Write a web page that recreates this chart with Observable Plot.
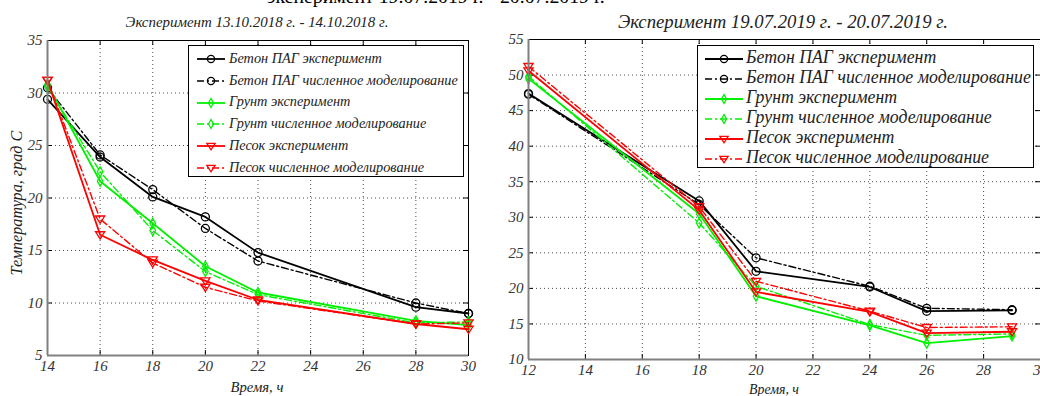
<!DOCTYPE html>
<html><head><meta charset="utf-8">
<script src="https://cdn.jsdelivr.net/npm/d3@7"></script>
<script src="https://cdn.jsdelivr.net/npm/@observablehq/plot@0.6"></script>
<style>
html,body{margin:0;padding:0;background:#fff;overflow:hidden;width:1040px;height:396px;}
#root{position:relative;width:1040px;height:396px;overflow:hidden;font-family:"Liberation Serif","DejaVu Serif",serif;}
.abs{position:absolute;white-space:nowrap;line-height:1;}
.legend{position:absolute;background:#fff;border:1px solid #000;box-sizing:border-box;}
.row{position:absolute;white-space:nowrap;font-style:italic;color:#222;line-height:1;}
.panel{position:absolute;top:0;}
</style></head><body><div id="root"></div>
<script>
// ---------- data ----------
const seriesNames = ["Бетон ПАГ эксперимент","Бетон ПАГ численное моделирование","Грунт эксперимент","Грунт численное моделирование","Песок эксперимент","Песок численное моделирование"];

const hoursA = [14,16,18,20,22,28,30];
const betonExpA = [29.4,23.9,20.1,18.2,14.8,9.6,9.0];
const betonSimA = [30.5,24.1,20.8,17.1,14.0,10.0,9.0];
const gruntExpA = [30.8,21.6,17.6,13.5,11.0,8.3,7.9];
const gruntSimA = [30.6,22.5,16.9,13.0,10.8,8.1,8.2];
const pesokExpA = [31.2,16.5,14.1,12.1,10.3,8.0,7.5];
const pesokSimA = [31.2,18.0,13.8,11.5,10.2,8.0,8.1];
const xTicksA = [14,16,18,20,22,24,26,28,30];
const yTicksA = [5,10,15,20,25,30,35];

const hoursB = [12,18,20,24,26,29];
const betonExpB = [47.4,32.3,22.4,20.2,16.8,16.9];
const betonSimB = [47.3,31.8,24.3,20.3,17.2,17.0];
const gruntExpB = [49.5,30.5,18.9,14.8,12.3,13.3];
const gruntSimB = [49.8,29.2,20.3,14.9,13.4,13.6];
const pesokExpB = [50.6,31.0,19.5,16.7,13.7,13.9];
const pesokSimB = [51.2,31.5,21.0,16.8,14.5,14.6];
const xTicksB = [12,14,16,18,20,22,24,26,28,30];
const yTicksB = [10,15,20,25,30,35,40,45,50,55];

const titleTop = "эксперимент 19.07.2019 г. - 20.07.2019 г.";
const titleA = "Эксперимент 13.10.2018 г. - 14.10.2018 г.";
const titleB = "Эксперимент 19.07.2019 г. - 20.07.2019 г.";
const yLabel = "Температура, град С";
const xLabel = "Время, ч";

// ---------- styles ----------
const triDown = {draw(ctx, size){ const r = Math.sqrt(size/Math.PI);
  ctx.moveTo(-1.15*r,-0.75*r); ctx.lineTo(1.15*r,-0.75*r); ctx.lineTo(0,1.05*r); ctx.closePath(); }};
const diamondTall = {draw(ctx, size){ const r = Math.sqrt(size/Math.PI);
  ctx.moveTo(0,-1.25*r); ctx.lineTo(0.7*r,0); ctx.lineTo(0,1.25*r); ctx.lineTo(-0.7*r,0); ctx.closePath(); }};
const GREEN = "#00f000", RED = "#ff0000", BLACK = "#000000";
function styleOf(i){
  const color = [BLACK,BLACK,GREEN,GREEN,RED,RED][i];
  const symbol = [ "circle","circle",diamondTall,diamondTall,triDown,triDown][i];
  const dashed = i % 2 === 1;
  return {color, symbol, dashed};
}
const DASH = "7,3,2,3";

const root = document.getElementById("root");

function makePanel(cfg){
  const {hours, values, xDomain, xTicks, yDomain, yTicks, width, height, m} = cfg;
  const pw = width - m.l - m.r, ph = height - m.t - m.b;
  const inner = (arr, d) => arr.filter(t => t > d[0] && t < d[1]);
  const marks = [
    Plot.ruleX(inner(xTicks, xDomain), {x: d=>d, stroke:"#000", strokeOpacity:0.7, strokeDasharray:"1,3"}),
    Plot.ruleY(inner(yTicks, yDomain), {y: d=>d, stroke:"#000", strokeOpacity:0.7, strokeDasharray:"1,3"}),
    Plot.tickX(xTicks, {x: d=>d, insetBottom: ph-5, stroke:"#000"}),
    Plot.tickX(xTicks, {x: d=>d, insetTop: ph-5, stroke:"#000"}),
    Plot.tickY(yTicks, {y: d=>d, insetRight: pw-5, stroke:"#000"}),
    Plot.tickY(yTicks, {y: d=>d, insetLeft: pw-5, stroke:"#000"}),
    Plot.frame({stroke:"#000"})
  ];
  values.forEach((vals, i) => {
    const data = hours.map((h, j) => ({x: h, y: vals[j]}));
    const st = styleOf(i);
    marks.push(Plot.line(data, {x:"x", y:"y", stroke: st.color, strokeWidth: st.dashed ? 1.4 : 1.8, strokeDasharray: st.dashed ? DASH : null}));
    marks.push(Plot.dot(data, {x:"x", y:"y", symbol: st.symbol, r: 4, stroke: st.color, fill:"none", strokeWidth: 1.3}));
  });
  marks.push(Plot.ruleX([xDomain[0]], {x: d=>d, stroke:"#808080", strokeWidth:2}));
  marks.push(Plot.ruleY([yDomain[0]], {y: d=>d, stroke:"#808080", strokeWidth:2}));
  return Plot.plot({
    width, height, marginLeft: m.l, marginRight: m.r, marginTop: m.t, marginBottom: m.b,
    x: {domain: xDomain, ticks: xTicks, tickSize: 0, tickPadding: 5, label: null, tickFormat: d => String(d)},
    y: {domain: yDomain, ticks: yTicks, tickSize: 0, tickPadding: 5, label: null, tickFormat: d => String(d)},
    style: {background: "transparent", overflow: "visible", fontFamily: "'Liberation Serif', serif", fontStyle: "italic", fontSize: "15px", color: "#333"},
    marks
  });
}

function place(node, left, width){
  const d = document.createElement("div");
  d.className = "panel"; d.style.left = left + "px"; d.style.width = width + "px";
  d.appendChild(node); root.appendChild(d);
}

place(makePanel({hours: hoursA, values: [betonExpA,betonSimA,gruntExpA,gruntSimA,pesokExpA,pesokSimA],
  xDomain:[14,30], xTicks: xTicksA, yDomain:[5,35], yTicks: yTicksA, width:520, height:396, m:{l:47,r:52,t:40,b:41}}), 0, 520);
place(makePanel({hours: hoursB, values: [betonExpB,betonSimB,gruntExpB,gruntSimB,pesokExpB,pesokSimB],
  xDomain:[12,30], xTicks: xTicksB, yDomain:[10,55], yTicks: yTicksB, width:570, height:396, m:{l:58,r:0,t:39,b:37}}), 470, 570);

// ---------- text helpers ----------
function addText(txt, o){
  const el = document.createElement("div");
  el.className = "abs"; el.textContent = txt;
  el.style.fontSize = o.size + "px";
  el.style.fontStyle = o.italic ? "italic" : "normal";
  el.style.color = o.color || "#222";
  root.appendChild(el);
  let r = el.getBoundingClientRect();
  if (o.w) { el.style.fontSize = (o.size * o.w / r.width) + "px"; r = el.getBoundingClientRect(); }
  if (o.rotate) {
    el.style.left = (o.cx - r.width/2) + "px"; el.style.top = (o.cy - r.height/2) + "px";
    el.style.transform = "rotate(-90deg)";
  } else if (o.left != null) {
    el.style.left = o.left + "px"; el.style.top = (o.cy - r.height/2) + "px";
  } else {
    el.style.left = (o.cx - r.width/2) + "px"; el.style.top = (o.cy - r.height/2) + "px";
  }
  return el;
}

addText(titleTop, {size:21, left:267, cy:-3, w:338, color:"#000"});
addText(titleA, {size:14, italic:true, cx:257, cy:22, w:263});
addText(titleB, {size:15, italic:true, cx:783, cy:22, w:330});
addText(yLabel, {size:14, italic:true, cx:17, cy:203, w:145, rotate:true});
addText(xLabel, {size:14, italic:true, cx:257, cy:387, w:53});
addText(xLabel, {size:14, italic:true, cx:774, cy:390, w:50});

// ---------- legends ----------
function swatch(i, w){
  const st = styleOf(i);
  const ns = "http://www.w3.org/2000/svg";
  const svg = document.createElementNS(ns, "svg");
  svg.setAttribute("width", w); svg.setAttribute("height", 12);
  svg.style.verticalAlign = "middle";
  const line = document.createElementNS(ns, "line");
  line.setAttribute("x1", 1); line.setAttribute("x2", w-1); line.setAttribute("y1", 6); line.setAttribute("y2", 6);
  line.setAttribute("stroke", st.color); line.setAttribute("stroke-width", st.dashed ? 1.4 : 1.8);
  if (st.dashed) line.setAttribute("stroke-dasharray", DASH);
  svg.appendChild(line);
  const p = document.createElementNS(ns, "path");
  const path = d3.path();
  const sym = st.symbol === "circle" ? d3.symbolCircle : st.symbol;
  sym.draw(path, 4*4*Math.PI*0.8);
  p.setAttribute("d", path.toString()); p.setAttribute("transform", `translate(${w/2},6)`);
  p.setAttribute("fill", "none"); p.setAttribute("stroke", st.color); p.setAttribute("stroke-width", 1.3);
  svg.appendChild(p);
  return svg;
}
function legend(box, rows){
  const lg = document.createElement("div");
  lg.className = "legend";
  Object.assign(lg.style, {left: box.x+"px", top: box.y+"px", width: box.w+"px", height: box.h+"px"});
  root.appendChild(lg);
  seriesNames.forEach((name, i) => {
    const sw = swatch(i, rows.sw);
    sw.style.position = "absolute"; sw.style.left = (rows.swx - box.x) + "px"; sw.style.top = (rows.y0 + i*rows.dy - 6 - box.y) + "px";
    lg.appendChild(sw);
    const t = document.createElement("div");
    t.className = "row"; t.textContent = name; t.style.fontSize = rows.size + "px";
    lg.appendChild(t);
    const r = t.getBoundingClientRect();
    if (i === 1) rows.scale = rows.w / r.width;
    t.dataset.i = i;
  });
  [...lg.querySelectorAll(".row")].forEach(t => {
    const i = +t.dataset.i;
    t.style.fontSize = (rows.size * rows.scale) + "px";
    const r = t.getBoundingClientRect();
    t.style.left = (rows.tx - box.x) + "px";
    t.style.top = (rows.y0 + i*rows.dy - r.height/2 - box.y - 1) + "px";
  });
}
legend({x:188, y:45, w:276, h:132}, {sw:30, swx:195, tx:228, y0:58, dy:21.8, size:13, w:229});
legend({x:697, y:45, w:337, h:123}, {sw:40, swx:703, tx:745, y0:58, dy:20, size:15, w:285});
</script></body></html>
